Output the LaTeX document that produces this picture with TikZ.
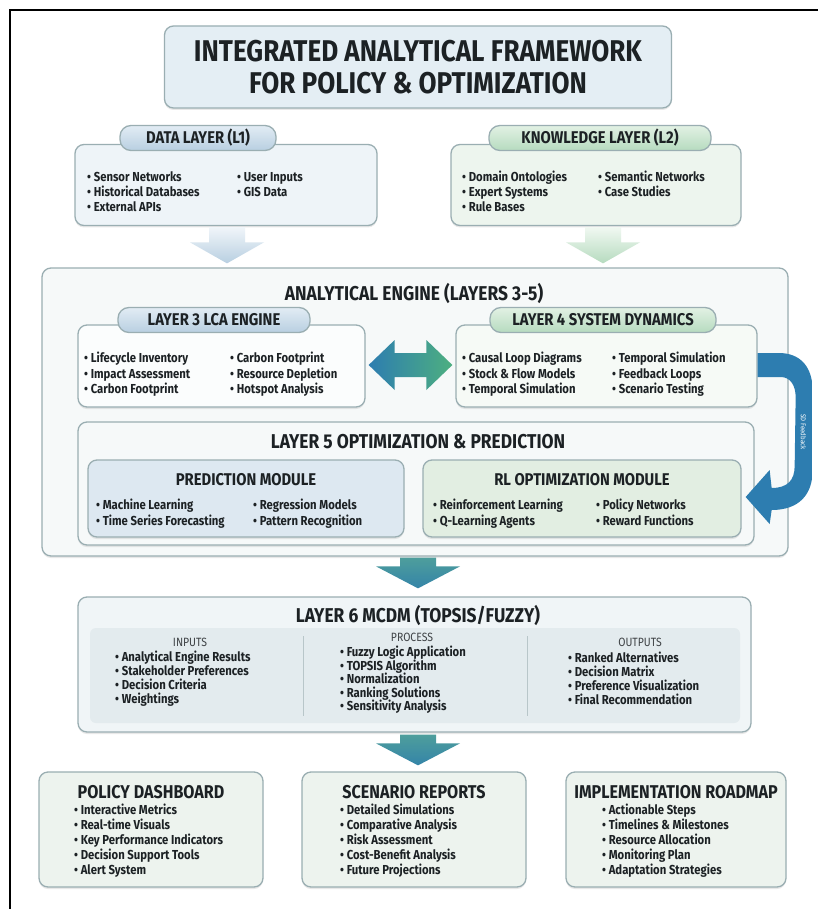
\documentclass[tikz,border=0pt]{standalone}
\usepackage{fontspec}
\setmainfont{Fira Sans}[FakeStretch=0.87]
\usetikzlibrary{calc,shadows}

\definecolor{bordc}{HTML}{9AAEB2}
\definecolor{txtc}{HTML}{1C2124}
\definecolor{titlefill}{HTML}{E4EEF4}
\definecolor{bluebody}{HTML}{EEF4F8}
\definecolor{greenbody}{HTML}{EDF5EE}
\definecolor{bluetabA}{HTML}{E2ECF4}
\definecolor{bluetabB}{HTML}{B8CFE1}
\definecolor{greentabA}{HTML}{E2F1E4}
\definecolor{greentabB}{HTML}{B6DBBF}
\definecolor{enginefill}{HTML}{F6F9F9}
\definecolor{predfill}{HTML}{DDE8F1}
\definecolor{rlfill}{HTML}{E2EEE2}
\definecolor{mcdmfill}{HTML}{F0F5F7}
\definecolor{bandfill}{HTML}{E3EBEE}
\definecolor{outfill}{HTML}{EDF3EE}
\definecolor{arrblue}{HTML}{2D7DB0}
\definecolor{arrgreen}{HTML}{4DAF80}
\definecolor{tealA}{HTML}{4E9E9C}
\definecolor{tealB}{HTML}{3484A8}

\newcommand\itfont{\bfseries\fontsize{13}{15}\selectfont}
\newcommand\tabfont{\bfseries\fontsize{17}{19}\selectfont}
\newcommand\bigfont{\bfseries\fontsize{20}{22}\selectfont}

% broad downward arrow: start, tip, shaft half width, head half width, head length, shading
\newcommand\fatdown[6]{%
  \shade[#6] let \p1=(#1), \p2=(#2) in
    (\x1-#3,\y1) -- (\x1+#3,\y1) -- (\x1+#3,\y2+#5) -- (\x1+#4,\y2+#5) --
    (\x1,\y2) -- (\x1-#4,\y2+#5) -- (\x1-#3,\y2+#5) -- cycle;}

\tikzset{
  box/.style={draw=bordc, line width=1.3pt, rounded corners=9pt, inner sep=0pt,
    drop shadow={opacity=0.18, shadow xshift=0pt, shadow yshift=-2pt}},
  tabbox/.style={draw=bordc, line width=1.3pt, rounded corners=11pt, inner sep=0pt,
    font=\tabfont, text=txtc},
  bluetab/.style={tabbox, top color=bluetabA, bottom color=bluetabB},
  greentab/.style={tabbox, top color=greentabA, bottom color=greentabB},
  % list entries sit on a common baseline, whatever their descenders
  item/.style={anchor=base west, yshift=-4.6pt, font=\itfont, text=txtc, inner sep=0pt},
  head/.style={font=\tabfont, text=txtc, inner sep=0pt},
  bighead/.style={font=\bigfont, text=txtc, inner sep=0pt},
  colhead/.style={font=\fontsize{12}{13}\selectfont, text=txtc!85, inner sep=0pt},
}

\begin{document}
\begin{tikzpicture}[x=1pt, y=-1pt]
\useasboundingbox (0,0) rectangle (818,909);
\fill[white] (0,0) rectangle (818,909);
\draw[line width=2.2pt, black] (10,909) -- (10,10) -- (818,10);

% title
\node[box, fill=titlefill, minimum width=507pt, minimum height=82pt] (title) at (418,67) {};
\node[font=\bfseries\fontsize{30}{32}\selectfont, text=txtc, align=center] (titletext) at (title.center)
  {INTEGRATED ANALYTICAL FRAMEWORK\\FOR POLICY \& OPTIMIZATION};

% layer 1 and layer 2
\node[box, fill=bluebody, minimum width=302pt, minimum height=81pt] (dl) at (226,185) {};
\node[bluetab, minimum width=156pt, minimum height=25pt] (dltab) at (198,138) {DATA LAYER (L1)};
\node[item] (d1) at (87,177) {• Sensor Networks};
\node[item] (d2) at (87,192) {• Historical Databases};
\node[item] (d3) at (87,207) {• External APIs};
\node[item] (d4) at (237,177) {• User Inputs};
\node[item] (d5) at (237,192) {• GIS Data};

\node[box, fill=greenbody, minimum width=290pt, minimum height=81pt] (kl) at (596,185) {};
\node[greentab, minimum width=222pt, minimum height=25pt] (kltab) at (600,138) {KNOWLEDGE LAYER (L2)};
\node[item] (k1) at (462,177) {• Domain Ontologies};
\node[item] (k2) at (462,192) {• Expert Systems};
\node[item] (k3) at (462,207) {• Rule Bases};
\node[item] (k4) at (598,177) {• Semantic Networks};
\node[item] (k5) at (598,192) {• Case Studies};

% analytical engine
\node[box, fill=enginefill, minimum width=746pt, minimum height=288pt] (eng) at (415,412) {};
\node[bighead] (engtitle) at (414,293) {ANALYTICAL ENGINE (LAYERS 3-5)};

\coordinate (a1s) at ($(dl.south)+(1,1)$);
\coordinate (a1t) at ($(eng.north -| a1s)+(0,-4)$);
\fatdown{a1s}{a1t}{18pt}{37pt}{21pt}{top color=bluetabA!50!white, bottom color=bluetabB}
\coordinate (a2s) at ($(kl.south)+(7,1)$);
\coordinate (a2t) at ($(eng.north -| a2s)+(0,-4)$);
\fatdown{a2s}{a2t}{18pt}{37pt}{21pt}{top color=greentabA!50!white, bottom color=greentabB}

% layer 3
\node[box, fill=white!60!enginefill, minimum width=287pt, minimum height=82pt] (l3) at (221.5,366) {};
\node[bluetab, minimum width=192pt, minimum height=25pt] (l3tab) at (214,320) {LAYER 3 LCA ENGINE};
\node[item] (c1) at (84,358) {• Lifecycle Inventory};
\node[item] (c2) at (84,373.5) {• Impact Assessment};
\node[item] (c3) at (84,389) {• Carbon Footprint};
\node[item] (c4) at (230,358) {• Carbon Footprint};
\node[item] (c5) at (230,373.5) {• Resource Depletion};
\node[item] (c6) at (230,389) {• Hotspot Analysis};

% layer 4
\node[box, fill=greenbody!50!white, minimum width=301pt, minimum height=82pt] (l4) at (606.5,366) {};
\node[greentab, minimum width=226pt, minimum height=25pt] (l4tab) at (603,320) {LAYER 4 SYSTEM DYNAMICS};
\node[item] (s1) at (462,358) {• Causal Loop Diagrams};
\node[item] (s2) at (462,373.5) {• Stock \& Flow Models};
\node[item] (s3) at (462,389) {• Temporal Simulation};
\node[item] (s4) at (612,358) {• Temporal Simulation};
\node[item] (s5) at (612,373.5) {• Feedback Loops};
\node[item] (s6) at (612,389) {• Scenario Testing};

% two-way link between layer 3 and layer 4
\shade[left color=arrblue, right color=arrgreen]
  let \p1=($(l3.east)+(3,-1)$), \p2=($(l4.west)+(-3,-1)$) in
  (\p1) -- (\x1+26pt,\y1+25pt) -- (\x1+26pt,\y1+12pt) -- (\x2-26pt,\y1+12pt) --
  (\x2-26pt,\y1+25pt) -- (\p2) -- (\x2-26pt,\y1-25pt) -- (\x2-26pt,\y1-12pt) --
  (\x1+26pt,\y1-12pt) -- (\x1+26pt,\y1-25pt) -- cycle;

% layer 5
\node[box, fill=enginefill, minimum width=676pt, minimum height=123pt] (l5) at (416,483.5) {};
\node[bighead] (l5title) at (418,442) {LAYER 5 OPTIMIZATION \& PREDICTION};
\node[box, fill=predfill, minimum width=316pt, minimum height=77pt] (pred) at (246,498.5) {};
\node[head] (predtitle) at (246,480) {PREDICTION MODULE};
\node[item] (p1) at (96,505) {• Machine Learning};
\node[item] (p2) at (96,521) {• Time Series Forecasting};
\node[item] (p3) at (253,505) {• Regression Models};
\node[item] (p4) at (253,521) {• Pattern Recognition};
\node[box, fill=rlfill, minimum width=318pt, minimum height=77pt] (rl) at (582,498.5) {};
\node[head] (rltitle) at (582,480) {RL OPTIMIZATION MODULE};
\node[item] (r1) at (433,505) {• Reinforcement Learning};
\node[item] (r2) at (433,521) {• Q-Learning Agents};
\node[item] (r3) at (596,505) {• Policy Networks};
\node[item] (r4) at (596,521) {• Reward Functions};

% feedback from layer 4 into the RL module
\shade[top color=arrblue, middle color=arrgreen, bottom color=arrblue]
  let \p1=(l4.east), \p2=(rl.east) in
  (\x1,\y1+13pt) -- (\x1+21pt,\y1+13pt)
  .. controls (\x1+43pt,\y1+13pt) and (\x1+55pt,\y1-1pt) .. (\x1+55pt,\y1-25pt)
  -- (\x1+55pt,\y2+28.5pt)
  .. controls (\x1+55pt,\y2+3.5pt) and (\x1+41pt,\y2-11.5pt) .. (\x2+30pt,\y2-11.5pt)
  -- (\x2+28pt,\y2-25.5pt) -- (\x2+4pt,\y2+1.5pt) -- (\x2+28pt,\y2+28.5pt)
  -- (\x2+30pt,\y2+10.5pt)
  .. controls (\x2+46pt,\y2+10.5pt) and (\x2+53pt,\y2+18.5pt) .. (\x2+53pt,\y2+32.5pt)
  -- (\x1+38pt,\y1-31pt)
  .. controls (\x1+38pt,\y1-20pt) and (\x1+33pt,\y1-11pt) .. (\x1+23pt,\y1-11pt)
  -- (\x1,\y1-11pt) -- cycle;
\node[rotate=-90, text=white, font=\fontsize{7}{8}\selectfont, inner sep=0pt] (sdlabel) at (803.5,432) {SD Feedback};

% layer 6
\node[box, fill=mcdmfill, minimum width=673pt, minimum height=135pt] (l6) at (414.5,664.5) {};
\coordinate (a3s) at ($(eng.south)+(3,1)$);
\coordinate (a3t) at ($(l6.north -| a3s)+(0,-8)$);
\fatdown{a3s}{a3t}{18pt}{42pt}{22pt}{top color=tealA, bottom color=tealB}
\node[bighead] (l6title) at (418,615) {LAYER 6 MCDM (TOPSIS/FUZZY)};
\node[fill=bandfill, rounded corners=6pt, minimum width=650pt, minimum height=95pt, inner sep=0pt] (band) at (415,675.5) {};
\draw[bordc!70, line width=0.6pt] (303,636) -- (303,716);
\draw[bordc!70, line width=0.6pt] (527,636) -- (527,716);
\node[colhead] (inh) at (190,642) {INPUTS};
\node[item] (i1) at (115,657) {• Analytical Engine Results};
\node[item] (i2) at (115,671) {• Stakeholder Preferences};
\node[item] (i3) at (115,685) {• Decision Criteria};
\node[item] (i4) at (115,699) {• Weightings};
\node[colhead] (prh) at (412,637) {PROCESS};
\node[item] (q1) at (340,652) {• Fuzzy Logic Application};
\node[item] (q2) at (340,665.5) {• TOPSIS Algorithm};
\node[item] (q3) at (340,679) {• Normalization};
\node[item] (q4) at (340,692.5) {• Ranking Solutions};
\node[item] (q5) at (340,706) {• Sensitivity Analysis};
\node[colhead] (outh) at (640,642) {OUTPUTS};
\node[item] (o1) at (568,658) {• Ranked Alternatives};
\node[item] (o2) at (568,672) {• Decision Matrix};
\node[item] (o3) at (568,686) {• Preference Visualization};
\node[item] (o4) at (568,700) {• Final Recommendation};

% outputs of the framework
\node[box, fill=outfill, minimum width=224pt, minimum height=115pt] (pol) at (151,829.5) {};
\node[box, fill=outfill, minimum width=224pt, minimum height=115pt] (scn) at (414,829.5) {};
\node[box, fill=outfill, minimum width=220pt, minimum height=115pt] (imp) at (676,829.5) {};
\coordinate (a4s) at ($(l6.south)+(3.5,2)$);
\coordinate (a4t) at ($(scn.north -| a4s)+(0,-6)$);
\fatdown{a4s}{a4t}{18pt}{42pt}{22pt}{top color=tealA, bottom color=tealB}

\node[bighead, font=\bfseries\fontsize{18.5}{20}\selectfont] (poltitle) at (151,792) {POLICY DASHBOARD};
\node[item] (b1) at (74,810) {• Interactive Metrics};
\node[item] (b2) at (74,825) {• Real-time Visuals};
\node[item] (b3) at (74,840) {• Key Performance Indicators};
\node[item] (b4) at (74,855) {• Decision Support Tools};
\node[item] (b5) at (74,870) {• Alert System};

\node[bighead, font=\bfseries\fontsize{18.5}{20}\selectfont] (scntitle) at (414,792) {SCENARIO REPORTS};
\node[item] (e1) at (340,810) {• Detailed Simulations};
\node[item] (e2) at (340,825) {• Comparative Analysis};
\node[item] (e3) at (340,840) {• Risk Assessment};
\node[item] (e4) at (340,855) {• Cost-Benefit Analysis};
\node[item] (e5) at (340,870) {• Future Projections};

\node[bighead, font=\bfseries\fontsize{18.5}{20}\selectfont] (imptitle) at (676,792) {IMPLEMENTATION ROADMAP};
\node[item] (m1) at (602,810) {• Actionable Steps};
\node[item] (m2) at (602,825) {• Timelines \& Milestones};
\node[item] (m3) at (602,840) {• Resource Allocation};
\node[item] (m4) at (602,855) {• Monitoring Plan};
\node[item] (m5) at (602,870) {• Adaptation Strategies};
\end{tikzpicture}
\end{document}
